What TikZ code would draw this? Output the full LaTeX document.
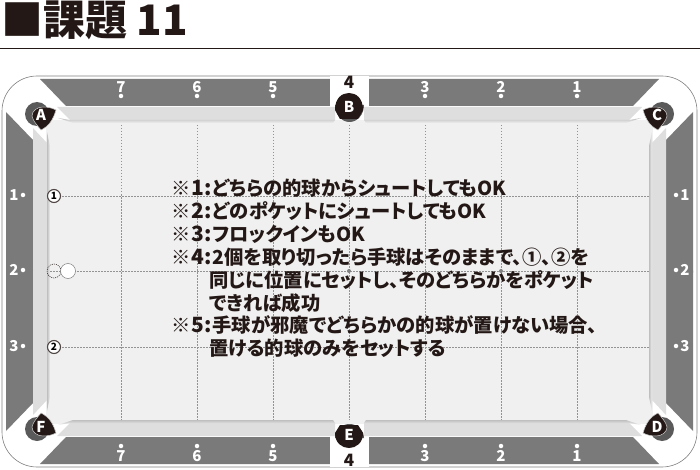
\documentclass[tikz,border=0pt]{standalone}
\usepackage{fontspec}
\setmainfont{Noto Sans CJK JP}[BoldFont=Noto Sans CJK JP Black]
\newfontfamily\notefont{Noto Sans CJK JP Black}[RawFeature={+palt}]
\usetikzlibrary{calc}
\definecolor{RailGray}{HTML}{7A7A7A}
\definecolor{CushionGray}{HTML}{DEDEDE}
\definecolor{ClothGray}{HTML}{F0F0F0}
\definecolor{PocketBlack}{HTML}{231815}
\definecolor{PocketGray}{HTML}{5A5A5A}
\newcommand{\noteno}[1]{\hspace{1pt}{\fontsize{21}{21}\selectfont #1:}\hspace{1pt}}
\tikzstyle{pocket} = [text=white, font=\bfseries\fontsize{15}{15}\selectfont, inner sep=0pt]
\tikzstyle{rail} = [text=white, font=\bfseries\fontsize{15}{15}\selectfont, inner sep=0pt]
\tikzstyle{spot} = [circle, minimum width=4.5pt, fill=white, inner sep=0pt]
\tikzstyle{grid} = [dash pattern=on 1.5pt off 1.5pt, line width=0.5pt, gray!85]
\tikzstyle{ball} = [circle, draw=PocketBlack!80, line width=1.1pt, fill=white, minimum width=13pt, inner sep=0pt, font=\bfseries\fontsize{10}{10}\selectfont]
\tikzstyle{note} = [anchor=west, inner sep=0pt, text=PocketBlack, font=\notefont\fontsize{19.3}{19.3}\selectfont]
\begin{document}
\begin{tikzpicture}[x=1pt,y=-1pt]
	\useasboundingbox (0,0) rectangle (700,470);
	\fill[white] (0,0) rectangle (700,470);

	% title
	\node[anchor=base west, inner sep=0pt, text=PocketBlack, font=\bfseries\fontsize{42}{42}\selectfont] (title) at (1,36) {■課題 11};
	\draw[line width=0.9pt, PocketBlack] (0,48) -- (700,48);

	% table
	\draw[gray, line width=0.6pt, rounded corners=35pt] (2,76) rectangle (697,467);
	\fill[ClothGray] (46,120) rectangle (653,424);
	\foreach \sx/\sy in {1/1,-1/1,1/-1,-1/-1} {
		\begin{scope}[shift={(349.5,271.5)},xscale=\sx,yscale=\sy,shift={(-349.5,-271.5)}]
			\fill[RailGray] (40,79) -- (330,79) -- (330,106) -- (66,106) -- cycle;
			\fill[RailGray] (6,112) -- (33,140) -- (33,272.5) -- (6,272.5) -- cycle;
			\fill[CushionGray] (57,107) -- (335,107) -- (335,120) -- (70,120) -- cycle;
			\fill[CushionGray] (33,128) -- (47,143) -- (47,272.5) -- (33,272.5) -- cycle;
			\shade[top color=gray!50, bottom color=ClothGray] (58,118) -- (70,120) -- (335,120) -- (333,123) -- (73,123) -- cycle;
			\shade[left color=gray!50, right color=ClothGray] (47,132) -- (47,272.5) -- (50,272.5) -- (50,146) -- cycle;
			% corner pocket
			\fill[PocketGray] (37,114) circle[radius=12];
			\fill[PocketBlack, draw=gray!40, line width=0.5pt] (56,110) .. controls (53,120) and (49,126) .. (41,130) .. controls (37,125) and (33,121) .. (32,116) .. controls (32,111) and (37,107) .. (43,107) .. controls (48,107) and (52,108) .. (56,110) -- cycle;
		\end{scope}
	}

	% side pockets
	\fill[white] (330,76.5) rectangle (369,106.5);
	\fill[white] (330,436.5) rectangle (369,466.5);
	\fill[PocketGray] (335,105) arc[start angle=180, end angle=360, x radius=14.5, y radius=-17] -- cycle;
	\fill[PocketBlack] (335,110) .. controls (335,98) and (342,93) .. (349,93) .. controls (356,93) and (363,98) .. (363,110) -- (358,119) -- (340,119) -- cycle;
	\fill[PocketGray] (335,438) arc[start angle=180, end angle=360, x radius=14.5, y radius=14] -- cycle;
	\fill[PocketBlack] (335,433) .. controls (335,443) and (342,448) .. (349,448) .. controls (356,448) and (363,443) .. (363,433) -- (358,425) -- (340,425) -- cycle;

	% grid
	\foreach \gridx in {121,197,273,349,425,501,577} {
		\draw[grid] (\gridx,125) -- (\gridx,420);
	}
	\foreach \gridy in {196,271,347} {
		\draw[grid] (50,\gridy) -- (650,\gridy);
	}
	\foreach \point in {(349,271),(501,271)} {
		\fill[gray] \point circle[radius=2];
	}

	% pocket letters
	\node[pocket] (A) at (41,115) {A};
	\node[pocket] (B) at (349,106.5) {B};
	\node[pocket] (C) at (657,115) {C};
	\node[pocket] (D) at (657,427) {D};
	\node[pocket] (E) at (349,435) {E};
	\node[pocket] (F) at (41,427) {F};

	% diamonds
	\foreach \num/\xpos in {7/121,6/197,5/273,3/425,2/501,1/577} {
		\node[rail] (top\num) at (\xpos,87) {\num};
		\node[spot] (topspot\num) at (\xpos,96) {};
		\node[rail] (bottom\num) at (\xpos,456) {\num};
		\node[spot] (bottomspot\num) at (\xpos,446) {};
	}
	\foreach \num/\ypos in {1/195,2/270,3/346} {
		\node[rail] (left\num) at (14,\ypos) {\num};
		\node[spot] (leftspot\num) at (23,\ypos) {};
		\node[rail] (right\num) at (685,\ypos) {\num};
		\node[spot] (rightspot\num) at (676,\ypos) {};
	}
	\node[rail, text=PocketBlack, font=\bfseries\fontsize{17}{17}\selectfont] (topfour) at (349,82) {4};
	\node[rail, text=PocketBlack, font=\bfseries\fontsize{17}{17}\selectfont] (bottomfour) at (349,460) {4};

	% balls
	\node[ball] (ballone) at (54,196) {1};
	\node[ball] (balltwo) at (54,347) {2};
	\node[ball, dash pattern=on 1pt off 1pt, line width=0.5pt, fill=none, minimum width=14pt, draw=PocketBlack] (ballghost) at (54,271) {};
	\node[ball, line width=0.5pt, draw=gray, minimum width=15pt] (cueball) at (68,271) {};

	% notes
	\node[note] (lineone) at (171,188) {※\noteno{1}どちらの的球からシュートしてもOK};
	\node[note] (linetwo) at (171,211) {※\noteno{2}どのポケットにシュートしてもOK};
	\node[note] (linethree) at (171,234) {※\noteno{3}フロックインもOK};
	\node[note] (linefour) at (171,257) {※\noteno{4}2個を取り切ったら手球はそのままで、①、②を};
	\node[note] (linefive) at (209,280) {同じに位置にセットし、そのどちらかをポケット};
	\node[note] (linesix) at (209,303) {できれば成功};
	\node[note] (lineseven) at (171,325) {※\noteno{5}手球が邪魔でどちらかの的球が置けない場合、};
	\node[note] (lineeight) at (209,348) {置ける的球のみをセットする};
\end{tikzpicture}
\end{document}
